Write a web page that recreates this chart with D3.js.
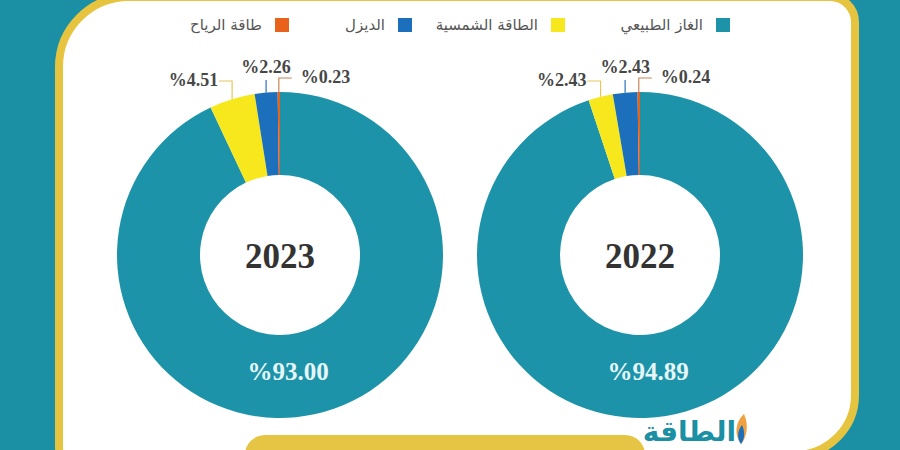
<!DOCTYPE html>
<html lang="ar">
<head>
<meta charset="UTF-8">
<title>Energy mix</title>
<style>
  * { margin: 0; padding: 0; }
  body { width: 900px; height: 450px; overflow: hidden; background: #1b90a5; }
  svg { display: block; }
  .legend text { font-family: "DejaVu Sans", sans-serif; font-size: 15px; fill: #555; }
  .pct { font-family: "Liberation Serif", serif; font-weight: bold; font-size: 18px; fill: #474747; }
  .year { font-family: "Liberation Serif", serif; font-weight: bold; font-size: 35px; fill: #333; }
  .big { font-family: "Liberation Serif", serif; font-weight: bold; font-size: 25px; fill: #e6f6f8; }
</style>
</head>
<body>
<svg id="chart" width="900" height="450"></svg>
<script src="https://cdn.jsdelivr.net/npm/d3@7/dist/d3.min.js"></script>
<script>
// Data
const categories = ['الغاز الطبيعي', 'الطاقة الشمسية', 'الديزل', 'طاقة الرياح'];
const colors = ['#1c93a8', '#f6e81c', '#1b6fbb', '#e8621b'];
const lineColors = [null, '#e6c85a', '#2d70b5', '#c8865a'];
const years = ['2023', '2022'];
const values2023 = [93.00, 4.51, 2.26, 0.23];
const values2022 = [94.89, 2.43, 2.43, 0.24];
const series = [values2023, values2022];

const svg = d3.select('#chart');

// Panel
const L = 59, T = -3, Rt = 855, B = 455;
const panel = d3.path();
panel.moveTo(L + 70, T);
panel.lineTo(Rt - 25, T);
panel.arcTo(Rt, T, Rt, T + 25, 25);
panel.lineTo(Rt, B - 60);
panel.arcTo(Rt, B, Rt - 60, B, 60);
panel.lineTo(L + 70, B + 60);
panel.arcTo(L, B + 60, L, B - 10, 70);
panel.lineTo(L, T + 70);
panel.arcTo(L, T, L + 70, T, 70);
panel.closePath();
svg.append('path').attr('d', panel.toString())
  .attr('fill', '#fff').attr('stroke', '#e6c43f').attr('stroke-width', 8);

// Legend
const legendX = [716, 551, 398, 275];
const legend = svg.append('g').attr('class', 'legend');
categories.forEach((c, i) => {
  legend.append('rect').attr('x', legendX[i]).attr('y', 18).attr('width', 14).attr('height', 14).attr('fill', colors[i]);
  legend.append('text').attr('x', legendX[i] - 13).attr('y', 30).attr('text-anchor', 'end').text(c);
});

// Donuts
const centersX = [280, 640];
const cy = 255;
const R = 163, r = 80;
const pie = d3.pie().sort(null).value(d => d);
const arc = d3.arc().innerRadius(r).outerRadius(R);

series.forEach((vals, k) => {
  const g = svg.append('g').attr('transform', `translate(${centersX[k]},${cy})`);
  const arcs = pie(vals);

  g.selectAll('path').data(arcs).join('path')
    .attr('d', arc)
    .attr('fill', (d, i) => colors[i]);

  // leader lines + labels for the small slices
  arcs.forEach((d, i) => {
    if (i === 0) return;
    const a = (d.startAngle + d.endAngle) / 2;
    const px = R * Math.sin(a), py = -R * Math.cos(a);
    const label = '%' + d.value.toFixed(2);
    let pts, tx, ty, anchor;
    if (i === 3) {        // wind: up then right
      const ey = -R - 14;
      pts = [[px, py], [px, ey], [px + 13, ey]];
      tx = px + 22; ty = ey + 5; anchor = 'start';
    } else if (i === 2) { // diesel: straight up
      const ey = -R - 12;
      pts = [[px, py], [px, ey]];
      tx = px; ty = ey - 7; anchor = 'middle';
    } else {              // solar: up then left
      const ey = -R - 11;
      pts = [[px, py], [px, ey], [px - 13, ey]];
      tx = px - 14; ty = ey + 5; anchor = 'end';
    }
    g.append('path').attr('d', d3.line()(pts))
      .attr('fill', 'none').attr('stroke', lineColors[i]).attr('stroke-width', 1.2);
    g.append('text').attr('class', 'pct').attr('x', tx).attr('y', ty)
      .attr('text-anchor', anchor).text(label);
  });

  g.append('text').attr('class', 'year').attr('x', 0).attr('y', 13)
    .attr('text-anchor', 'middle').text(years[k]);
  g.append('text').attr('class', 'big').attr('x', 8).attr('y', 125)
    .attr('text-anchor', 'middle').text('%' + vals[0].toFixed(2));
});

// Footer pill + logo
svg.append('rect').attr('x', 245).attr('y', 435).attr('width', 400).attr('height', 40)
  .attr('rx', 20).attr('fill', '#e6c544');
svg.append('text').attr('x', 736).attr('y', 441).attr('text-anchor', 'end')
  .style('font-family', '"DejaVu Sans", sans-serif').style('font-weight', 'bold').style('font-size', '28px')
  .attr('fill', '#1b8fa4').text('الطاقة');
svg.append('path').attr('d', 'M744,414 C735,422 734,435 741,444 C747,437 749,425 744,414 Z').attr('fill', '#f0a040');
svg.append('path').attr('d', 'M742,425 C737,431 737,439 741,444 C745,439 745,431 742,425 Z').attr('fill', '#1b6fbb');
</script>
</body>
</html>
